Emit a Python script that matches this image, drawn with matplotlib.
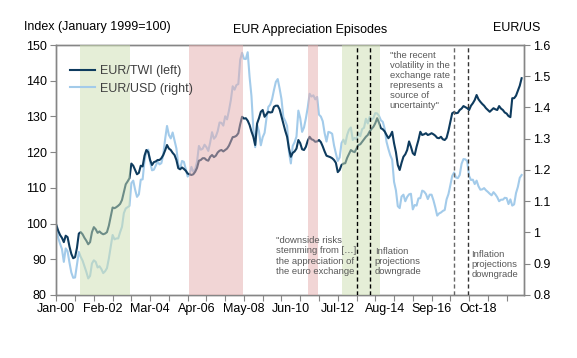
import numpy as np
import matplotlib
matplotlib.use('Agg')
import matplotlib.pyplot as plt
from matplotlib.ticker import FuncFormatter, NullFormatter

plt.rcParams['font.family'] = ['Liberation Sans', 'DejaVu Sans']

# monthly values, Jan 2000 .. Sep 2020
eur_twi = [
    99.6, 98.0, 96.8, 96.0, 94.8, 96.6, 96.2, 93.6, 91.5, 90.3, 90.6, 93.2,
    97.2, 97.6, 97.0, 96.0, 95.2, 94.2, 94.8, 97.6, 99.0, 98.4, 97.4, 97.8,
    97.3, 97.0, 97.2, 97.6, 99.4, 102.0, 104.5, 104.3, 104.6, 105.0, 105.5, 106.6,
    108.8, 111.0, 111.8, 112.7, 116.8, 116.2, 115.0, 113.8, 114.2, 116.2, 116.0, 119.0,
    120.6, 120.0, 117.8, 116.4, 117.2, 117.4, 117.8, 117.8, 118.3, 119.2, 120.5, 122.0,
    121.0, 120.6, 119.8, 119.2, 117.8, 115.5, 115.2, 115.7, 115.3, 114.8, 114.0, 113.8,
    113.6, 113.8, 114.5, 115.6, 117.6, 117.8, 118.3, 118.3, 117.8, 117.6, 118.7, 119.2,
    118.6, 119.0, 119.9, 120.4, 120.6, 120.2, 120.6, 121.0, 121.8, 123.0, 124.2, 124.3,
    124.6, 125.3, 127.8, 129.9, 129.4, 129.5, 128.8, 127.6, 125.8, 124.3, 122.0, 128.0,
    129.5, 131.3, 131.8, 129.9, 130.6, 131.3, 131.1, 131.2, 132.7, 133.0, 133.0, 132.0,
    130.0, 128.0, 126.0, 124.3, 121.0, 118.7, 119.8, 120.2, 121.0, 123.4, 122.5, 120.8,
    120.6, 121.5, 123.2, 124.3, 123.6, 123.4, 122.9, 123.0, 123.4, 122.8, 121.6, 120.2,
    119.0, 118.8, 118.6, 118.3, 117.8, 117.0, 114.4, 115.0, 116.4, 116.8, 116.9, 118.4,
    119.5, 120.6, 120.2, 120.0, 121.0, 122.0, 122.2, 122.9, 123.6, 124.3, 124.8, 125.8,
    126.5, 127.1, 128.1, 129.5, 128.2, 126.7, 126.4, 125.8, 124.8, 123.9, 124.6, 125.7,
    122.5, 120.0, 116.4, 115.0, 117.0, 118.7, 119.4, 120.6, 123.0, 121.5, 119.7, 119.2,
    121.5, 123.4, 125.7, 124.8, 125.0, 125.3, 124.8, 125.0, 125.3, 125.0, 124.6, 124.0,
    123.9, 124.3, 123.6, 123.4, 124.0, 126.0, 128.5, 130.9, 131.2, 130.9, 131.0, 131.8,
    132.2, 132.9, 132.6, 132.3, 131.8, 133.0, 133.7, 134.6, 136.0, 134.8, 134.1, 133.5,
    133.0, 132.3, 131.8, 131.3, 131.8, 132.3, 132.0, 131.8, 132.9, 132.2, 131.8, 131.1,
    130.8, 130.1, 129.8, 135.1, 135.1, 135.8, 137.2, 138.6, 140.7,
]

eur_usd = [
    1.014, 0.983, 0.964, 0.947, 0.906, 0.949, 0.940, 0.904, 0.872, 0.855, 0.856, 0.897,
    0.938, 0.922, 0.910, 0.892, 0.874, 0.853, 0.861, 0.901, 0.911, 0.906, 0.888, 0.892,
    0.883, 0.870, 0.876, 0.886, 0.917, 0.955, 0.992, 0.978, 0.981, 0.981, 1.001, 1.018,
    1.062, 1.077, 1.081, 1.085, 1.158, 1.166, 1.137, 1.114, 1.122, 1.169, 1.170, 1.229,
    1.261, 1.265, 1.226, 1.199, 1.201, 1.214, 1.227, 1.218, 1.222, 1.249, 1.299, 1.341,
    1.312, 1.301, 1.320, 1.294, 1.269, 1.217, 1.204, 1.229, 1.226, 1.202, 1.179, 1.186,
    1.210, 1.194, 1.202, 1.227, 1.277, 1.265, 1.268, 1.281, 1.273, 1.261, 1.288, 1.321,
    1.300, 1.307, 1.324, 1.352, 1.351, 1.342, 1.372, 1.362, 1.390, 1.423, 1.468, 1.457,
    1.472, 1.475, 1.553, 1.575, 1.556, 1.555, 1.577, 1.498, 1.437, 1.332, 1.273, 1.345,
    1.324, 1.279, 1.305, 1.319, 1.365, 1.402, 1.409, 1.427, 1.456, 1.482, 1.491, 1.461,
    1.427, 1.369, 1.357, 1.341, 1.257, 1.221, 1.277, 1.289, 1.307, 1.390, 1.366, 1.322,
    1.336, 1.365, 1.400, 1.444, 1.435, 1.439, 1.426, 1.434, 1.377, 1.371, 1.356, 1.318,
    1.291, 1.322, 1.320, 1.316, 1.279, 1.253, 1.229, 1.240, 1.286, 1.297, 1.283, 1.312,
    1.329, 1.336, 1.296, 1.303, 1.298, 1.319, 1.308, 1.331, 1.335, 1.364, 1.349, 1.370,
    1.361, 1.366, 1.382, 1.381, 1.373, 1.359, 1.354, 1.332, 1.290, 1.267, 1.247, 1.233,
    1.162, 1.135, 1.084, 1.078, 1.115, 1.121, 1.100, 1.114, 1.122, 1.124, 1.074, 1.088,
    1.086, 1.109, 1.110, 1.134, 1.131, 1.123, 1.107, 1.121, 1.121, 1.103, 1.080, 1.054,
    1.061, 1.064, 1.069, 1.072, 1.106, 1.123, 1.151, 1.181, 1.192, 1.176, 1.174, 1.184,
    1.220, 1.235, 1.234, 1.228, 1.181, 1.168, 1.169, 1.155, 1.166, 1.148, 1.137, 1.138,
    1.142, 1.135, 1.130, 1.124, 1.119, 1.129, 1.122, 1.113, 1.100, 1.105, 1.105, 1.111,
    1.110, 1.091, 1.106, 1.086, 1.090, 1.126, 1.146, 1.175, 1.184,
]

tick_labels = ['Jan-00', 'Feb-02', 'Mar-04', 'Apr-06', 'May-08',
               'Jun-10', 'Jul-12', 'Aug-14', 'Sep-16', 'Oct-18']

# episodes, in months since Jan 2000
green_eps = [(12.5, 39.5), (152.5, 172.5)]
red_eps = [(70.5, 99.5), (134.0, 139.5)]
dash_black = [160.5, 167.0]
dash_grey = [212.0, 219.5]

navy = '#0e3b5e'
light = '#a3cbea'
grey = '#868686'

fig = plt.figure(figsize=(5.77, 3.58), dpi=100)
ax = fig.add_axes([0.0976, 0.176, 0.8097, 0.6983])
ax2 = ax.twinx()
ax.set_zorder(ax2.get_zorder() + 1)
ax.patch.set_visible(False)

x = np.arange(len(eur_twi))
l2, = ax2.plot(x, eur_usd, color=light, lw=1.5, label='EUR/USD (right)')
l1, = ax.plot(x, eur_twi, color=navy, lw=1.5, label='EUR/TWI (left)', zorder=2)

for a, b in green_eps:
    ax.axvspan(a, b, color='#cddfb1', alpha=0.5, lw=0, zorder=3)
for a, b in red_eps:
    ax.axvspan(a, b, color='#e5adad', alpha=0.5, lw=0, zorder=3)
for m in dash_black:
    ax.axvline(m, color='black', ls=(0, (3, 2)), lw=1, zorder=4)
ax.axvline(dash_grey[0], color='#666666', ls=(0, (3, 2)), lw=1, zorder=4)
ax.axvline(dash_grey[1], color='#333333', ls=(0, (3, 2)), lw=1, zorder=4)

ax.set_xlim(0, 249)
ax.set_ylim(80, 150)
ax.set_yticks(np.arange(80, 151, 10))
ax2.set_ylim(0.8, 1.6)
ax2.set_yticks(np.arange(0.8, 1.61, 0.1))
ax2.yaxis.set_major_formatter(FuncFormatter(lambda v, p: f'{v:.1f}'.rstrip('0').rstrip('.')))

ax.xaxis.remove_overlapping_locs = False
ax.set_xticks(np.arange(0, 249, 10))
ax.xaxis.set_major_formatter(NullFormatter())
ax.set_xticks(np.arange(0, 249, 25), minor=True)
ax.set_xticklabels(tick_labels, minor=True)
ax.tick_params(axis='x', which='minor', length=0, pad=6, labelsize=9)
ax.tick_params(axis='x', which='major', length=4, color=grey, direction='out')
ax.tick_params(axis='y', length=4, color=grey, pad=3, labelsize=9)
ax2.tick_params(axis='y', length=4, color=grey, pad=3, labelsize=9)

for a_ in (ax, ax2):
    for s in a_.spines.values():
        s.set_color(grey)
        s.set_linewidth(1)

leg = ax.legend([l1, l2], ['EUR/TWI (left)', 'EUR/USD (right)'], loc='upper left',
                bbox_to_anchor=(0.03, 0.92), frameon=False, fontsize=9,
                handlelength=2.0, handletextpad=0.35, labelspacing=0.45,
                borderaxespad=0, borderpad=0)
for t in leg.get_texts():
    t.set_color('#404040')

ann = dict(fontsize=6.8, color='#595959', linespacing=1.15, va='top', ha='left', zorder=5)
ax.text(117.2, 96.4, '"downside risks\nstemming from [\u2026]\nthe appreciation of\nthe euro exchange', **ann)
ax.text(169.7, 93.5, 'Inflation\nprojections\ndowngrade', **ann)
ax.text(221.2, 92.6, 'Inflation\nprojections\ndowngrade', **ann)
ax.text(177.6, 148.3, '"the recent\nvolatility in the\nexchange rate\nrepresents a\nsource of\nuncertainty"', **ann)

fig.text(24 / 577, 1 - 27 / 358, 'Index (January 1999=100)', fontsize=9, va='center', ha='left')
fig.text(310 / 577, 1 - 30 / 358, 'EUR Appreciation Episodes', fontsize=9, va='center', ha='center')
fig.text(493 / 577, 1 - 28 / 358, 'EUR/US', fontsize=9, va='center', ha='left')

fig.savefig('out.png', dpi=100)
